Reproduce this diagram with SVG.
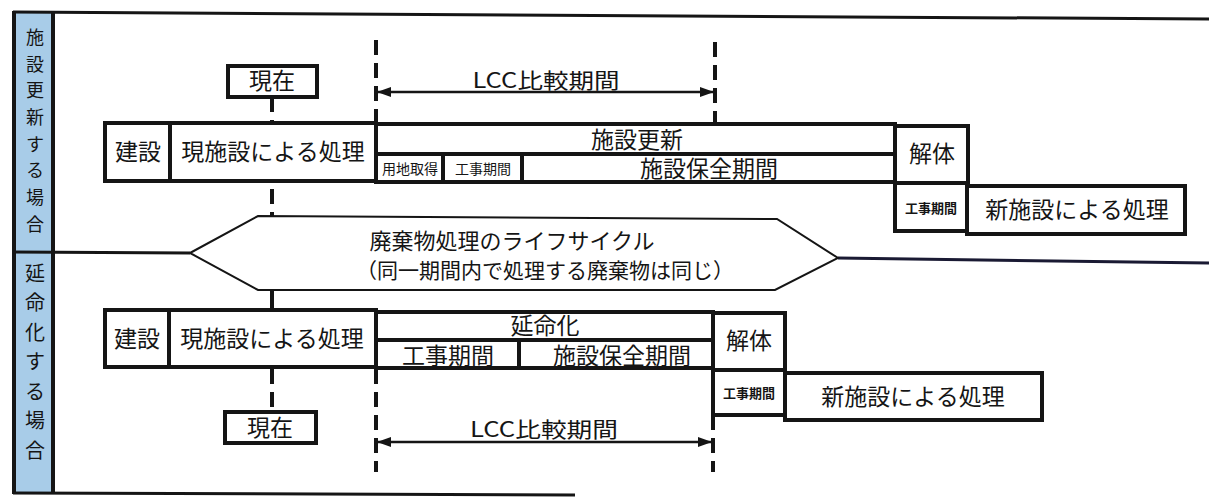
<svg xmlns="http://www.w3.org/2000/svg" width="1209" height="497" viewBox="0 0 1209 497">
<defs>
<style>
.box{fill:#fff;stroke:#151515;stroke-width:4}
.t{font-family:"Noto Sans CJK JP","Noto Sans CJK SC",sans-serif;fill:#151515;text-anchor:middle}
.big{font-size:23px}
.sm{font-size:14px}
.smb{font-size:13px;font-weight:bold}
.lbl{font-size:18px}
.lbl2{font-size:20px}
.dash{stroke:#151515;stroke-width:4;stroke-dasharray:15 8;fill:none}
.arr{stroke:#151515;stroke-width:2.5;fill:none;marker-start:url(#ah);marker-end:url(#ah)}
</style>
<marker id="ah" viewBox="0 0 14 10" refX="13" refY="5" markerWidth="14" markerHeight="10" markerUnits="userSpaceOnUse" orient="auto-start-reverse">
<path d="M0,0 L14,5 L0,10 Z" fill="#151515"/>
</marker>
</defs>
<rect width="1209" height="497" fill="#fff"/>

<g id="frame">
<rect x="15" y="13" width="38" height="480" fill="#a8cce8"/>
<line x1="13" y1="12" x2="1209" y2="19" stroke="#151515" stroke-width="3"/>
<line x1="14" y1="11" x2="14" y2="494" stroke="#151515" stroke-width="4"/>
<line x1="53" y1="12" x2="53" y2="494" stroke="#151515" stroke-width="4"/>
<line x1="13" y1="493" x2="575" y2="495" stroke="#151515" stroke-width="3"/>
<line x1="13" y1="252" x2="190" y2="253" stroke="#151515" stroke-width="3"/>
<line x1="838" y1="258" x2="1209" y2="263" stroke="#1a1a33" stroke-width="3"/>
</g>

<g id="label-renew">
<text class="t lbl" x="35" y="44">施</text>
<text class="t lbl" x="35" y="71">設</text>
<text class="t lbl" x="35" y="97">更</text>
<text class="t lbl" x="35" y="124">新</text>
<text class="t lbl" x="35" y="151">す</text>
<text class="t lbl" x="35" y="177">る</text>
<text class="t lbl" x="35" y="204">場</text>
<text class="t lbl" x="35" y="231">合</text>
</g>
<g id="label-extend">
<text class="t lbl2" x="35" y="281">延</text>
<text class="t lbl2" x="35" y="310">命</text>
<text class="t lbl2" x="35" y="340">化</text>
<text class="t lbl2" x="35" y="369">す</text>
<text class="t lbl2" x="35" y="399">る</text>
<text class="t lbl2" x="35" y="428">場</text>
<text class="t lbl2" x="35" y="458">合</text>
</g>

<g id="connectors">
<line class="dash" x1="272" y1="97" x2="272" y2="216"/>
<line class="dash" x1="376" y1="40" x2="376" y2="124"/>
<line class="dash" x1="715" y1="42" x2="715" y2="124"/>
<line class="arr" x1="378" y1="92" x2="713" y2="92"/>
<line x1="272" y1="290" x2="272" y2="310" stroke="#151515" stroke-width="4"/>
<line class="dash" x1="272" y1="369" x2="272" y2="412"/>
<line class="dash" x1="376" y1="369" x2="376" y2="472"/>
<line class="dash" x1="713" y1="415" x2="713" y2="472"/>
<line class="arr" x1="378" y1="442" x2="711" y2="442"/>
</g>

<g id="lcc-top"><text class="t" x="546" y="88" font-size="21" textLength="147" lengthAdjust="spacingAndGlyphs">LCC比較期間</text></g>
<g id="genzai-top"><rect class="box" x="228" y="66" width="89" height="31"/><text class="t big" x="272" y="89">現在</text></g>

<g id="kensetsu-top"><rect class="box" x="105" y="123" width="65" height="58"/><text class="t big" x="138" y="160">建設</text></g>
<g id="genshisetsu-top"><rect class="box" x="170" y="123" width="206" height="58"/><text class="t big" x="273" y="160">現施設による処理</text></g>
<g id="koshin"><rect class="box" x="376" y="124" width="519" height="30"/><text class="t big" x="637" y="148">施設更新</text></g>
<g id="yochi"><rect class="box" x="376" y="154" width="67" height="28"/><text class="t sm" x="410" y="174">用地取得</text></g>
<g id="koji-top"><rect class="box" x="443" y="154" width="79" height="28"/><text class="t sm" x="483" y="174">工事期間</text></g>
<g id="hozen-top"><rect class="box" x="522" y="154" width="373" height="28"/><text class="t big" x="709" y="177">施設保全期間</text></g>
<g id="kaitai-top"><rect class="box" x="895" y="126" width="73" height="57"/><text class="t big" x="932" y="162">解体</text></g>
<g id="koji2-top"><rect class="box" x="895" y="183" width="72" height="48"/><text class="t smb" x="931" y="213">工事期間</text></g>
<g id="shin-top"><rect class="box" x="967" y="186" width="218" height="48"/><text class="t big" x="1077" y="218">新施設による処理</text></g>

<g id="lifecycle">
<polygon points="190,253 258,216 777,219 838,258 775,290 258,290" fill="#fff" stroke="#151515" stroke-width="2"/>
<text class="t" x="512" y="249" font-size="22">廃棄物処理のライフサイクル</text>
<text class="t" x="545" y="278" font-size="21">（同一期間内で処理する廃棄物は同じ）</text>
</g>

<g id="kensetsu-bot"><rect class="box" x="105" y="310" width="64" height="57"/><text class="t big" x="137" y="347">建設</text></g>
<g id="genshisetsu-bot"><rect class="box" x="169" y="310" width="207" height="57"/><text class="t big" x="272" y="347">現施設による処理</text></g>
<g id="enmei"><rect class="box" x="376" y="312" width="337" height="28"/><text class="t big" x="545" y="334">延命化</text></g>
<g id="koji-bot"><rect class="box" x="376" y="340" width="143" height="28"/><text class="t big" x="448" y="364">工事期間</text></g>
<g id="hozen-bot"><rect class="box" x="519" y="340" width="194" height="28"/><text class="t big" x="622" y="364">施設保全期間</text></g>
<g id="kaitai-bot"><rect class="box" x="713" y="313" width="72" height="57"/><text class="t big" x="749" y="349">解体</text></g>
<g id="koji2-bot"><rect class="box" x="713" y="370" width="72" height="45"/><text class="t smb" x="749" y="398">工事期間</text></g>
<g id="shin-bot"><rect class="box" x="785" y="373" width="257" height="47"/><text class="t big" x="913" y="405">新施設による処理</text></g>

<g id="genzai-bot"><rect class="box" x="225" y="412" width="91" height="31"/><text class="t big" x="270" y="436">現在</text></g>
<g id="lcc-bot"><text class="t" x="544" y="437" font-size="21" textLength="148" lengthAdjust="spacingAndGlyphs">LCC比較期間</text></g>
</svg>
